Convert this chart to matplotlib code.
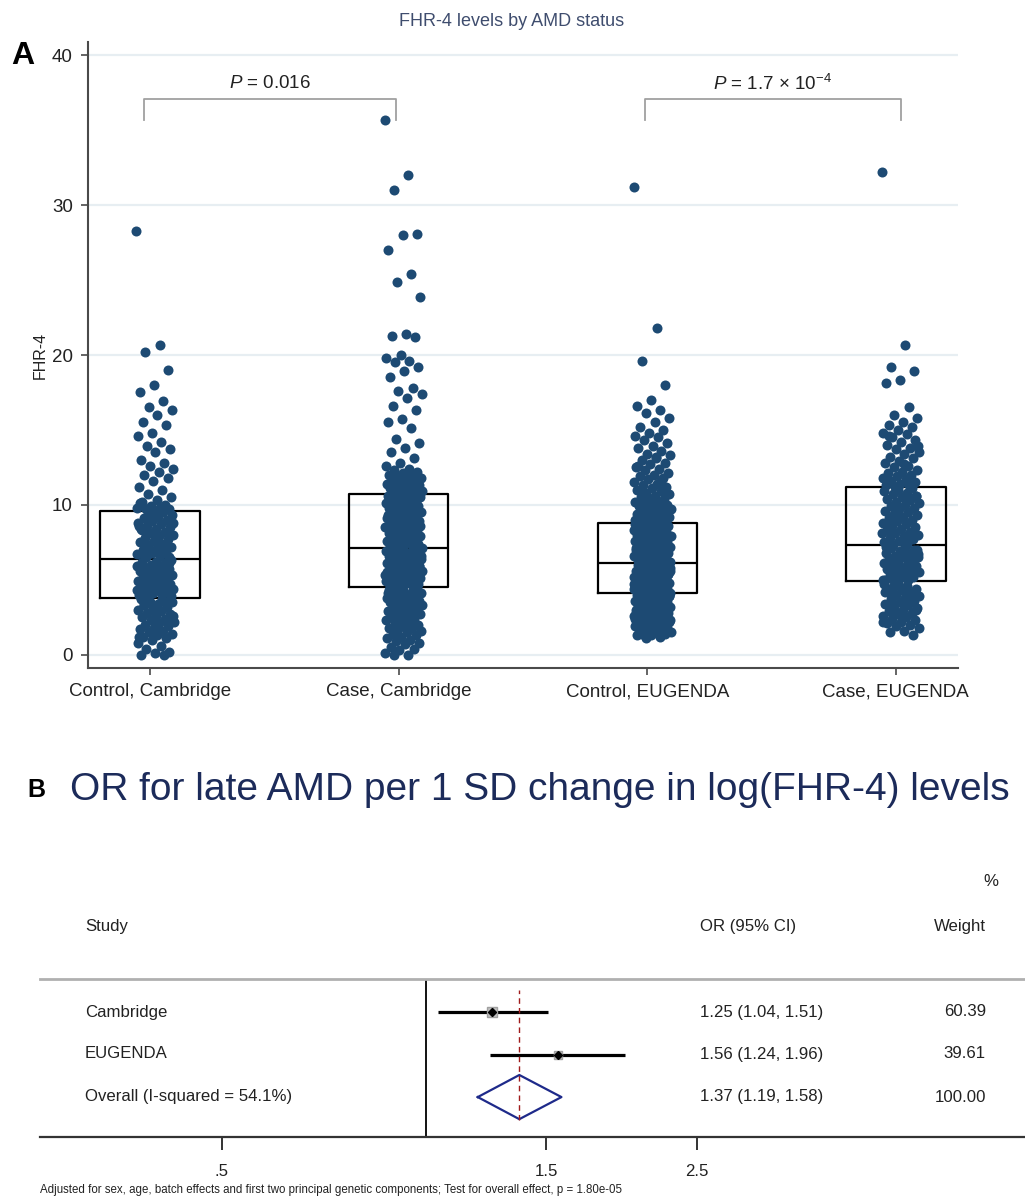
import numpy as np
import matplotlib
matplotlib.use("Agg")
import matplotlib.pyplot as plt
from matplotlib import font_manager

# ---------------- data ----------------
groups = ["Control, Cambridge", "Case, Cambridge", "Control, EUGENDA", "Case, EUGENDA"]

ctrl_cam = [28.3, 20.7, 20.2, 19.0, 18.0, 17.5, 16.9, 16.5, 16.3, 16.0, 15.5, 15.3, 14.8, 14.6, 14.2, 13.9,
            13.7, 13.5, 13.0, 12.8, 12.6, 12.4, 12.2, 12.0, 11.8, 11.6, 11.2, 11.0, 10.7, 10.5, 10.3, 10.2,
            10.0, 9.9, 9.8, 9.8, 9.7, 9.7, 9.6, 10.1,
            9.5, 9.4, 9.3, 9.2, 9.1, 9.0, 8.9, 8.8, 8.7, 8.6, 8.5, 8.4, 8.3, 8.2, 8.1, 8.0, 7.9, 7.8, 7.7,
            7.6, 7.5, 7.4, 7.3, 7.2, 7.1, 7.0, 6.9, 6.8, 6.7, 6.6, 6.5, 6.5, 7.6, 8.4, 7.2, 6.9, 8.8, 7.9,
            6.6, 7.4, 9.3, 8.6, 7.0, 6.7,
            6.3, 6.2, 6.2, 6.1, 6.0, 5.9, 5.9, 5.8, 5.7, 5.6, 5.6, 5.5, 5.4, 5.3, 5.3, 5.2, 5.1, 5.0, 4.9,
            4.9, 4.8, 4.7, 4.6, 4.6, 4.5, 4.4, 4.4, 4.3, 4.2, 4.2, 4.1, 4.0, 4.0, 3.9, 3.9, 5.5, 4.8, 6.0,
            5.1, 4.3, 5.7, 4.5, 6.1, 5.0,
            3.7, 3.6, 3.6, 3.5, 3.4, 3.3, 3.2, 3.1, 3.0, 2.9, 2.8, 2.7, 2.6, 2.5, 2.4, 2.3, 2.2, 2.1, 2.0,
            1.9, 1.8, 1.7, 1.6, 1.5, 1.4, 1.3, 1.2, 1.1, 1.0, 0.8, 0.6, 0.4, 0.2, 0.1, 0.0, 0.0, 3.5, 2.6,
            1.5, 3.3, 2.2, 3.0, 1.2, 3.7]

case_cam = [35.7, 32.0, 31.0, 28.1, 28.0, 27.0, 25.4, 24.9, 23.9, 21.4, 21.3, 21.2, 20.0, 19.8, 19.6, 19.5,
            19.2, 18.9, 18.5, 17.8, 17.6, 17.4, 17.1, 16.6, 16.3, 15.7, 15.5, 15.1, 14.4, 14.1, 13.8, 13.5,
            13.1, 12.8, 12.6, 12.4, 12.3, 12.2, 12.1, 12.0, 12.0, 11.9, 11.8, 11.7, 11.6, 11.6, 11.5, 11.4,
            11.4, 11.3, 11.3, 11.2, 11.1, 11.0, 11.0, 10.9, 10.9, 10.8, 10.8, 10.7,
            10.6, 10.6, 10.5, 10.5, 10.4, 10.3, 10.3, 10.2, 10.1, 10.0, 10.0, 9.9, 9.8, 9.8, 9.7, 9.6, 9.5,
            9.5, 9.4, 9.3, 9.2, 9.1, 9.1, 9.0, 8.9, 8.8, 8.8, 8.7, 8.6, 8.5, 8.4, 8.4, 8.3, 8.2, 8.1, 8.0,
            8.0, 7.9, 7.8, 7.8, 7.7, 7.6, 7.6, 7.5, 7.4, 7.4, 7.3, 7.3, 7.2, 7.2, 7.1, 9.7, 8.9, 10.2, 8.1,
            9.3, 7.7, 10.4, 8.6, 7.5,
            7.0, 7.0, 6.9, 6.9, 6.8, 6.8, 6.7, 6.7, 6.6, 6.5, 6.5, 6.4, 6.4, 6.3, 6.2, 6.2, 6.1, 6.0, 6.0,
            5.9, 5.9, 5.8, 5.7, 5.7, 5.6, 5.6, 5.5, 5.4, 5.4, 5.3, 5.3, 5.2, 5.1, 5.1, 5.0, 5.0, 4.9, 4.9,
            4.8, 4.8, 4.7, 4.7, 4.6, 4.6, 4.5, 6.6, 5.8, 5.2, 6.3, 4.8, 5.5, 6.1, 4.6, 5.9, 6.8, 5.0, 4.7,
            6.4, 5.3, 5.6,
            4.4, 4.4, 4.3, 4.3, 4.2, 4.2, 4.1, 4.0, 4.0, 3.9, 3.9, 3.8, 3.7, 3.7, 3.6, 3.5, 3.5, 3.4, 3.3,
            3.3, 3.2, 3.1, 3.0, 3.0, 2.9, 2.8, 2.7, 2.7, 2.6, 2.5, 2.4, 2.3, 2.3, 2.2, 2.1, 2.0, 1.9, 1.8,
            1.8, 1.7, 1.6, 1.5, 1.4, 1.3, 1.2, 1.1, 1.0, 0.9, 0.8, 0.7, 0.5, 0.4, 0.3, 0.1, 0.0, 0.0, 3.6,
            2.8, 4.1, 1.9]

ctrl_eug = [31.2, 21.8, 19.6, 18.0, 17.0, 16.6, 16.3, 16.1, 15.8, 15.5, 15.2, 15.0, 14.8, 14.6, 14.5, 14.3,
            14.1, 13.9, 13.8, 13.6, 13.4, 13.3, 13.1, 13.0, 12.8, 12.7, 12.5, 12.4, 12.3, 12.1, 12.0, 11.9,
            11.8, 11.7, 11.5, 11.4, 11.3, 11.2, 11.1, 11.0, 10.9, 10.8, 10.7, 10.6, 10.5, 10.4, 10.3, 10.2,
            10.2, 10.1, 10.0, 10.0, 9.9, 9.8, 9.8, 9.7, 9.6, 9.6, 9.5, 9.4, 9.4, 9.3, 9.3, 9.2, 9.2, 9.1,
            9.1, 9.0, 9.0, 8.9, 8.9, 8.9, 8.8, 12.6, 11.6, 10.5, 9.7, 13.2, 10.9, 9.5,
            8.8, 8.7, 8.7, 8.6, 8.6, 8.5, 8.5, 8.4, 8.4, 8.3, 8.3, 8.2, 8.2, 8.1, 8.0, 8.0, 7.9, 7.9, 7.8,
            7.8, 7.7, 7.7, 7.6, 7.6, 7.5, 7.5, 7.4, 7.4, 7.3, 7.3, 7.2, 7.2, 7.1, 7.1, 7.0, 7.0, 6.9, 6.9,
            6.8, 6.8, 6.7, 6.7, 6.6, 6.6, 6.5, 6.5, 6.4, 6.4, 6.3, 6.3, 6.2, 6.2, 6.1, 8.6, 8.1, 7.6, 7.1,
            6.6, 8.3, 7.8, 7.3, 6.8, 6.3, 8.5, 7.9, 7.4, 6.9, 6.4, 8.2, 7.7, 7.2, 6.7, 6.2, 8.0, 7.5, 7.0,
            6.5, 8.7, 7.3, 6.6,
            6.1, 6.0, 6.0, 5.9, 5.9, 5.8, 5.8, 5.7, 5.7, 5.6, 5.6, 5.5, 5.5, 5.4, 5.4, 5.3, 5.3, 5.2, 5.2,
            5.1, 5.1, 5.0, 5.0, 4.9, 4.9, 4.8, 4.8, 4.7, 4.7, 4.6, 4.6, 4.5, 4.5, 4.4, 4.4, 4.3, 4.3, 4.2,
            4.2, 4.1, 6.0, 5.7, 5.4, 5.1, 4.8, 4.5, 4.2, 5.9, 5.6, 5.3, 5.0, 4.7, 4.4, 5.8, 5.5, 5.2, 4.9,
            4.6, 4.3, 6.1, 5.6, 5.1, 4.6, 5.8, 5.3, 4.8, 4.3, 5.9, 5.4, 4.9, 4.4, 5.7, 5.2, 4.7, 5.5, 5.0,
            4.5, 4.1,
            4.0, 4.0, 3.9, 3.9, 3.8, 3.8, 3.7, 3.7, 3.6, 3.6, 3.5, 3.5, 3.4, 3.4, 3.3, 3.3, 3.2, 3.2, 3.1,
            3.1, 3.0, 3.0, 2.9, 2.9, 2.8, 2.8, 2.7, 2.7, 2.6, 2.6, 2.5, 2.5, 2.4, 2.4, 2.3, 2.3, 2.2, 2.2,
            2.1, 2.1, 2.0, 2.0, 1.9, 1.9, 1.8, 1.8, 1.7, 1.7, 1.6, 1.6, 1.5, 1.5, 1.4, 1.4, 1.3, 1.3, 1.2,
            1.1, 3.9, 3.6, 3.3, 3.0, 2.7, 2.4, 2.1, 1.8, 3.8, 3.5, 3.2, 2.9, 2.6, 2.3, 2.0, 3.7, 3.4, 3.1,
            2.8, 2.5, 2.2, 4.1]

case_eug = [32.2, 20.7, 19.2, 18.9, 18.3, 18.1, 16.5, 16.0, 15.8, 15.5, 15.3, 15.2, 15.0, 14.8, 14.7, 14.5,
            14.3, 14.2, 14.0, 13.8, 13.7, 13.5, 13.4, 13.2, 13.1, 12.9, 12.8, 12.6, 12.5, 12.3, 12.2, 12.1,
            12.0, 11.9, 11.8, 11.7, 11.6, 11.5, 11.4, 11.3, 11.3, 11.2, 13.9, 12.7, 14.6,
            11.1, 11.0, 10.9, 10.8, 10.7, 10.6, 10.5, 10.4, 10.3, 10.2, 10.1, 10.0, 9.9, 9.8, 9.7, 9.6, 9.5,
            9.4, 9.3, 9.2, 9.1, 9.0, 8.9, 8.8, 8.7, 8.6, 8.5, 8.4, 8.3, 8.2, 8.1, 8.0, 7.9, 7.8, 7.7, 7.6,
            7.5, 7.4, 7.3, 10.6, 9.2, 8.5, 7.8, 9.9, 8.1,
            7.2, 7.1, 7.0, 6.9, 6.8, 6.7, 6.6, 6.5, 6.5, 6.4, 6.3, 6.2, 6.1, 6.0, 6.0, 5.9, 5.8, 5.7, 5.6,
            5.5, 5.5, 5.4, 5.3, 5.2, 5.1, 5.0, 5.0, 4.9, 7.0, 6.6, 6.2, 5.8, 5.4, 5.0, 6.8, 6.4, 5.9, 5.3,
            7.2, 6.1, 5.6, 6.7, 5.2, 6.3, 5.7,
            4.8, 4.7, 4.6, 4.5, 4.4, 4.3, 4.2, 4.1, 4.0, 3.9, 3.8, 3.7, 3.6, 3.5, 3.4, 3.3, 3.2, 3.1, 3.0,
            2.9, 2.8, 2.7, 2.6, 2.5, 2.4, 2.3, 2.2, 2.1, 2.0, 1.9, 1.8, 1.6, 1.5, 1.3, 4.6, 4.2, 3.8, 3.4,
            3.0, 2.6, 4.4, 3.6, 2.8, 2.2, 4.0]

box_q1 = [3.8, 4.5, 4.1, 4.9]
box_med = [6.4, 7.1, 6.1, 7.3]
box_q3 = [9.6, 10.7, 8.8, 11.2]

p_labels = [r"$P$ = 0.016", r"$P$ = 1.7 × 10$^{-4}$"]

studies = ["Cambridge", "EUGENDA"]
or_est = [1.25, 1.56]
or_lo = [1.04, 1.24]
or_hi = [1.51, 1.96]
weights = [60.39, 39.61]
or_text = ["1.25 (1.04, 1.51)", "1.56 (1.24, 1.96)"]
weight_text = ["60.39", "39.61"]
overall_label = "Overall (I-squared = 54.1%)"
overall_est, overall_lo, overall_hi = 1.37, 1.19, 1.58
overall_text = "1.37 (1.19, 1.58)"
overall_weight_text = "100.00"
forest_ticks = [0.5, 1.5, 2.5]
forest_ticklabels = [".5", "1.5", "2.5"]

# ---------------- style ----------------
plt.rcParams["font.family"] = ["Liberation Sans", "DejaVu Sans"]
plt.rcParams["mathtext.fontset"] = "custom"
plt.rcParams["mathtext.rm"] = "Liberation Sans"
plt.rcParams["mathtext.it"] = "Liberation Sans:italic"

names = {f.name for f in font_manager.fontManager.ttflist}
if "Liberation Sans Narrow" in names:
    NARROW = "Liberation Sans Narrow"
    nscale = 1.0
else:
    NARROW = "Liberation Sans"
    nscale = 0.83

W, H = 1025, 1200
fig = plt.figure(figsize=(W / 100, H / 100), dpi=100)


def fx(x):
    return x / W


def fy(y):
    return 1 - y / H


DOT = "#1d4a73"
AXC = "#4a4a4a"

# ---------------- Panel A ----------------
ax = fig.add_axes([fx(88), fy(668), 870 / W, 626 / H])
ax.set_xlim(-0.25, 3.25)
ax.set_ylim(-0.87, 40.87)
ax.set_yticks([0, 10, 20, 30, 40])
ax.yaxis.grid(True, color="#e7eef2", lw=1.6)
ax.set_axisbelow(True)
for s in ["top", "right"]:
    ax.spines[s].set_visible(False)
for s in ["left", "bottom"]:
    ax.spines[s].set_color(AXC)
    ax.spines[s].set_linewidth(1.5)
ax.tick_params(axis="both", colors=AXC, length=5, width=1.2, labelsize=13.5, labelcolor="#222222")
ax.tick_params(axis="y", pad=6)
ax.tick_params(axis="x", pad=6)
ax.set_xticks(range(4))
ax.set_xticklabels(groups)
ax.set_ylabel("FHR-4", fontsize=11.5, color="#222222")
ax.yaxis.set_label_coords(-0.046, 0.5)

stats = []
for q1, m, q3 in zip(box_q1, box_med, box_q3):
    stats.append(dict(med=m, q1=q1, q3=q3, whislo=q1, whishi=q3, fliers=[]))
ax.bxp(stats, positions=range(4), widths=0.4, showcaps=False, showfliers=False,
       boxprops=dict(color="black", lw=1.6), medianprops=dict(color="black", lw=1.6),
       whiskerprops=dict(lw=0), manage_ticks=False)

for i, vals in enumerate([ctrl_cam, case_cam, ctrl_eug, case_eug]):
    vals = np.asarray(vals)
    n = len(vals)
    jit = ((np.arange(n) * 0.6180339887) % 1.0 - 0.5) * 0.15
    ax.scatter(i + 0.02 + jit, vals, s=52, color=DOT, linewidths=0, zorder=3)

# significance brackets
for (a, b), lab in zip([(-0.025, 0.99), (1.99, 3.02)], p_labels):
    ax.plot([a, a, b, b], [35.7, 37.1, 37.1, 35.7], color="#a0a0a0", lw=1.3, clip_on=False)
    ax.text((a + b) / 2, 38.1, lab, ha="center", va="center", fontsize=13.5, color="#222222")

fig.text(fx(512), fy(22), "FHR-4 levels by AMD status", ha="center", va="center",
         fontsize=13, color="#3f4d6e")
fig.text(fx(11), fy(56), "A", ha="left", va="center", fontsize=23, fontweight="bold", color="black")

# ---------------- Panel B ----------------
fig.text(fx(27), fy(790), "B", ha="left", va="center", fontsize=18, fontweight="bold", color="black")
fig.text(fx(70), fy(790), "OR for late AMD per 1 SD change in log(FHR-4) levels", ha="left", va="center",
         fontsize=28, color="#1c2b5a")

fa = fig.add_axes([fx(40), fy(1137), 985 / W, 158 / H])
fa.set_xscale("log")
fa.set_xlim(0.27, 7.6)
fa.set_ylim(0.06, 3.78)
for s in ["left", "right"]:
    fa.spines[s].set_visible(False)
fa.spines["top"].set_color("#b0b0b0")
fa.spines["top"].set_linewidth(2)
fa.spines["bottom"].set_color("#333333")
fa.spines["bottom"].set_linewidth(1.6)
fa.set_yticks([])
fa.set_xticks(forest_ticks)
fa.set_xticklabels(forest_ticklabels, family=NARROW, fontsize=14.5 * nscale)
fa.xaxis.set_minor_locator(matplotlib.ticker.NullLocator())
fa.tick_params(axis="x", length=9.5, width=1.4, colors="#333333", labelcolor="#222222", pad=10)

fa.axvline(1.0, color="black", lw=1.3)

rows = [3, 2]
for yv, e, lo, hi, w in zip(rows, or_est, or_lo, or_hi, weights):
    fa.plot([lo, hi], [yv, yv], color="black", lw=2.3, solid_capstyle="butt", zorder=2)
    fa.plot([e], [yv], marker="s", ms=0.93 * np.sqrt(w), color="#c0c0c0", mec="#a0a0a0", zorder=3)
    fa.plot([e], [yv], marker="D", ms=4, color="black", zorder=4)

fa.plot([overall_lo, overall_est, overall_hi, overall_est, overall_lo], [1, 1.52, 1, 0.48, 1],
        color="#1e2a8a", lw=1.6, zorder=3)
fa.plot([overall_est, overall_est], [0.46, 3.52], color="#a01c1c", lw=1.0, ls=(0, (4, 3)), zorder=5)

fs = 14.5 * nscale
tc = "#222222"
fig.text(fx(998), fy(882), "%", ha="right", va="center", family=NARROW, fontsize=fs, color=tc)
fig.text(fx(85), fy(927), "Study", ha="left", va="center", family=NARROW, fontsize=fs, color=tc)
fig.text(fx(700), fy(927), "OR (95% CI)", ha="left", va="center", family=NARROW, fontsize=fs, color=tc)
fig.text(fx(986), fy(927), "Weight", ha="right", va="center", family=NARROW, fontsize=fs, color=tc)

row_px = [1012, 1054]
for yp, name, ot, wt in zip(row_px, studies, or_text, weight_text):
    fig.text(fx(85), fy(yp), name, ha="left", va="center", family=NARROW, fontsize=fs, color=tc)
    fig.text(fx(700), fy(yp), ot, ha="left", va="center", family=NARROW, fontsize=fs, color=tc)
    fig.text(fx(986), fy(yp), wt, ha="right", va="center", family=NARROW, fontsize=fs, color=tc)
fig.text(fx(85), fy(1097), overall_label, ha="left", va="center", family=NARROW, fontsize=fs, color=tc)
fig.text(fx(700), fy(1097), overall_text, ha="left", va="center", family=NARROW, fontsize=fs, color=tc)
fig.text(fx(986), fy(1097), overall_weight_text, ha="right", va="center", family=NARROW, fontsize=fs, color=tc)

fig.text(fx(40), fy(1190),
         "Adjusted for sex, age, batch effects and first two principal genetic components; "
         "Test for overall effect, p = 1.80e-05",
         ha="left", va="center", family=NARROW, fontsize=10 * nscale, color=tc)

fig.savefig("out.png", dpi=100, facecolor="white")
